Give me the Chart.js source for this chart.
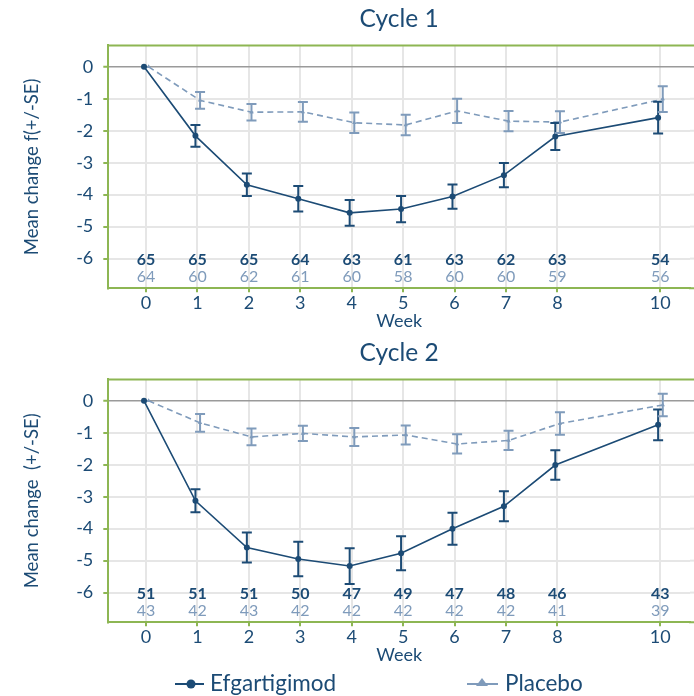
<!DOCTYPE html>
<html>
<head>
<meta charset="utf-8">
<script src="https://cdn.jsdelivr.net/npm/chart.js@4"></script>
<style>
  html, body { margin:0; padding:0; background:#fff; }
  #wrap { position:relative; width:694px; height:696px; overflow:hidden; font-family: Lato, "Open Sans", sans-serif; }
  .box { position:absolute; left:0; width:694px; }
  #legend { position:absolute; left:0; top:672px; width:694px; height:24px; color:#1c4b75; font-size:22.5px; }
  .item { position:absolute; top:0; height:24px; line-height:24px; white-space:nowrap; }
  .item svg { position:absolute; top:0; }
  .item span { position:absolute; top:-1px; }
</style>
</head>
<body>
<div id="wrap">
  <div class="box" style="top:0;height:335px"><canvas id="c1" width="694" height="335"></canvas></div>
  <div class="box" style="top:334px;height:335px"><canvas id="c2" width="694" height="335"></canvas></div>
  <div id="legend">
    <div class="item" style="left:175px">
      <svg width="30" height="24"><line x1="0" y1="12" x2="29" y2="12" stroke="#1c4b75" stroke-width="2"/><circle cx="16" cy="12" r="4.5" fill="#1c4b75"/></svg>
      <span style="left:35px">Efgartigimod</span>
    </div>
    <div class="item" style="left:467px">
      <svg width="32" height="24"><line x1="0" y1="12" x2="31" y2="12" stroke="#7f9bbb" stroke-width="2"/><polygon points="15,6 21,14 9,14" fill="#7f9bbb"/></svg>
      <span style="left:38px">Placebo</span>
    </div>
  </div>
</div>
<script>
// ---------- DATA ----------
const weeks = [0, 1, 2, 3, 4, 5, 6, 7, 8, 10];
const xTicks = [0, 1, 2, 3, 4, 5, 6, 7, 8, 10];
const yTicks = [0, -1, -2, -3, -4, -5, -6];

// Cycle 1
const c1Efg   = [0, -2.16, -3.69, -4.13, -4.57, -4.45, -4.06, -3.39, -2.18, -1.59];
const c1EfgSE = [0, 0.34, 0.35, 0.40, 0.40, 0.41, 0.38, 0.38, 0.42, 0.50];
const c1Pla   = [0, -1.05, -1.42, -1.41, -1.75, -1.82, -1.38, -1.70, -1.73, -1.01];
const c1PlaSE = [0, 0.26, 0.26, 0.31, 0.32, 0.32, 0.38, 0.32, 0.34, 0.40];
const c1EfgN  = [65, 65, 65, 64, 63, 61, 63, 62, 63, 54];
const c1PlaN  = [64, 60, 62, 61, 60, 58, 60, 60, 59, 56];

// Cycle 2
const c2Efg   = [0, -3.13, -4.59, -4.95, -5.17, -4.77, -4.00, -3.30, -2.01, -0.75];
const c2EfgSE = [0, 0.36, 0.47, 0.54, 0.56, 0.53, 0.50, 0.47, 0.46, 0.48];
const c2Pla   = [0, -0.69, -1.13, -1.02, -1.13, -1.07, -1.35, -1.24, -0.71, -0.13];
const c2PlaSE = [0, 0.28, 0.26, 0.24, 0.28, 0.30, 0.30, 0.30, 0.35, 0.35];
const c2EfgN  = [51, 51, 51, 50, 47, 49, 47, 48, 46, 43];
const c2PlaN  = [43, 42, 43, 42, 42, 42, 42, 42, 41, 39];

// ---------- STYLE ----------
const FONT = 'Lato, "Open Sans", sans-serif';
const DARK = '#1c4b75';
const LIGHT = '#7f9bbb';
const GREEN = '#8db653';
const GRID = '#e6e6e6';

const errorBars = {
  id: 'errorBars',
  afterDatasetsDraw(chart) {
    const ctx = chart.ctx;
    chart.data.datasets.forEach((ds, i) => {
      const meta = chart.getDatasetMeta(i);
      const ys = chart.scales.y;
      ctx.save();
      ctx.strokeStyle = ds.borderColor;
      ctx.lineWidth = 2;
      ctx.setLineDash([]);
      meta.data.forEach((pt, j) => {
        const se = ds.se[j];
        if (!se) return;
        const v = ds.data[j].y;
        const yTop = ys.getPixelForValue(v + se);
        const yBot = ys.getPixelForValue(v - se);
        const x = pt.x;
        ctx.beginPath();
        ctx.moveTo(x, yTop); ctx.lineTo(x, yBot);
        ctx.moveTo(x - 5, yTop); ctx.lineTo(x + 5, yTop);
        ctx.moveTo(x - 5, yBot); ctx.lineTo(x + 5, yBot);
        ctx.stroke();
      });
      ctx.restore();
    });
  }
};

// extends the frame and horizontal grid to the right edge of the canvas
const frameTop = {
  id: 'frameTop',
  beforeDatasetsDraw(chart) {
    const {ctx, chartArea} = chart;
    const ys = chart.scales.y;
    ctx.save();
    yTicks.forEach(v => {
      const y = ys.getPixelForValue(v);
      ctx.strokeStyle = v === 0 ? '#9a9a9a' : GRID;
      ctx.lineWidth = v === 0 ? 1.5 : 2;
      ctx.beginPath();
      ctx.moveTo(chartArea.right, y);
      ctx.lineTo(chart.width, y);
      ctx.stroke();
    });
    ctx.restore();
  },
  afterDraw(chart) {
    const {ctx, chartArea} = chart;
    ctx.save();
    ctx.strokeStyle = GREEN;
    ctx.lineWidth = 2;
    ctx.beginPath();
    ctx.moveTo(chartArea.left - 1, chartArea.top);
    ctx.lineTo(chart.width, chartArea.top);
    ctx.moveTo(chartArea.right - 1, chartArea.bottom);
    ctx.lineTo(chart.width, chartArea.bottom);
    ctx.stroke();
    ctx.restore();
  }
};

const counts = {
  id: 'counts',
  afterDraw(chart) {
    const opts = chart.options.plugins.counts;
    const {ctx} = chart;
    const xs = chart.scales.x, ys = chart.scales.y;
    const y0 = ys.getPixelForValue(-6);
    ctx.save();
    ctx.textAlign = 'center';
    ctx.textBaseline = 'middle';
    weeks.forEach((w, j) => {
      const x = xs.getPixelForValue(w);
      ctx.font = 'bold 16px ' + FONT;
      ctx.fillStyle = DARK;
      ctx.fillText(String(opts.efg[j]), x, y0 + 1);
      ctx.font = '16px ' + FONT;
      ctx.fillStyle = LIGHT;
      ctx.fillText(String(opts.pla[j]), x, y0 + 18);
    });
    ctx.restore();
  }
};

function makeChart(id, title, yTitle, efg, efgSE, pla, plaSE, efgN, plaN) {
  const ctx = document.getElementById(id);
  return new Chart(ctx, {
    type: 'line',
    data: {
      datasets: [
        {
          label: 'Efgartigimod',
          data: weeks.map((w, j) => ({x: w - 0.04, y: efg[j]})),
          se: efgSE,
          borderColor: DARK, backgroundColor: DARK,
          borderWidth: 1.6, pointRadius: 3, pointStyle: 'circle',
          pointBorderWidth: 0, tension: 0
        },
        {
          label: 'Placebo',
          data: weeks.map((w, j) => ({x: w + 0.05, y: pla[j]})),
          se: plaSE,
          borderColor: LIGHT, backgroundColor: LIGHT,
          borderWidth: 1.6, borderDash: [6, 4], pointRadius: 2.5, pointStyle: 'triangle',
          pointBorderWidth: 0, tension: 0
        }
      ]
    },
    options: {
      responsive: false,
      animation: false,
      layout: { padding: 0 },
      plugins: {
        legend: { display: false },
        tooltip: { enabled: false },
        title: {
          display: true, text: title, fullSize: false,
          color: DARK, font: { family: FONT, size: 24.5, weight: 'normal' },
          padding: { top: 4, bottom: 12 }
        },
        counts: { efg: efgN, pla: plaN }
      },
      scales: {
        x: {
          type: 'linear', min: -0.735, max: 10.58,
          afterBuildTicks: (s) => { s.ticks = xTicks.map(v => ({value: v})); },
          afterFit: (s) => { s.height = 46.7; },
          ticks: { color: DARK, font: { family: FONT, size: 18 }, padding: 0, autoSkip: false, maxRotation: 0 },
          grid: { color: GRID, lineWidth: 2, tickColor: GREEN, tickLength: 4, tickWidth: 2 },
          border: { color: GREEN, width: 2 },
          title: { display: true, text: 'Week', color: DARK, font: { family: FONT, size: 18 }, padding: { top: 0, bottom: 3.5 } }
        },
        y: {
          type: 'linear', min: -6.93, max: 0.67,
          afterBuildTicks: (s) => { s.ticks = yTicks.map(v => ({value: v})); },
          afterFit: (s) => { s.width = 108.3; },
          ticks: { color: DARK, font: { family: FONT, size: 18 }, padding: 10 },
          grid: {
            color: (c) => c.tick && c.tick.value === 0 ? '#9a9a9a' : GRID,
            lineWidth: (c) => c.tick && c.tick.value === 0 ? 1.5 : 2,
            tickColor: GREEN, tickLength: 5, tickWidth: 2
          },
          border: { color: GREEN, width: 2 },
          title: { display: true, text: yTitle, color: DARK, font: { family: FONT, size: 18.5 }, padding: { top: 20.5, bottom: 0 } }
        }
      }
    },
    plugins: [errorBars, frameTop, counts]
  });
}

makeChart('c1', 'Cycle 1', 'Mean change f(+/-SE)', c1Efg, c1EfgSE, c1Pla, c1PlaSE, c1EfgN, c1PlaN);
makeChart('c2', 'Cycle 2', 'Mean change  (+/-SE)', c2Efg, c2EfgSE, c2Pla, c2PlaSE, c2EfgN, c2PlaN);
</script>
</body>
</html>
